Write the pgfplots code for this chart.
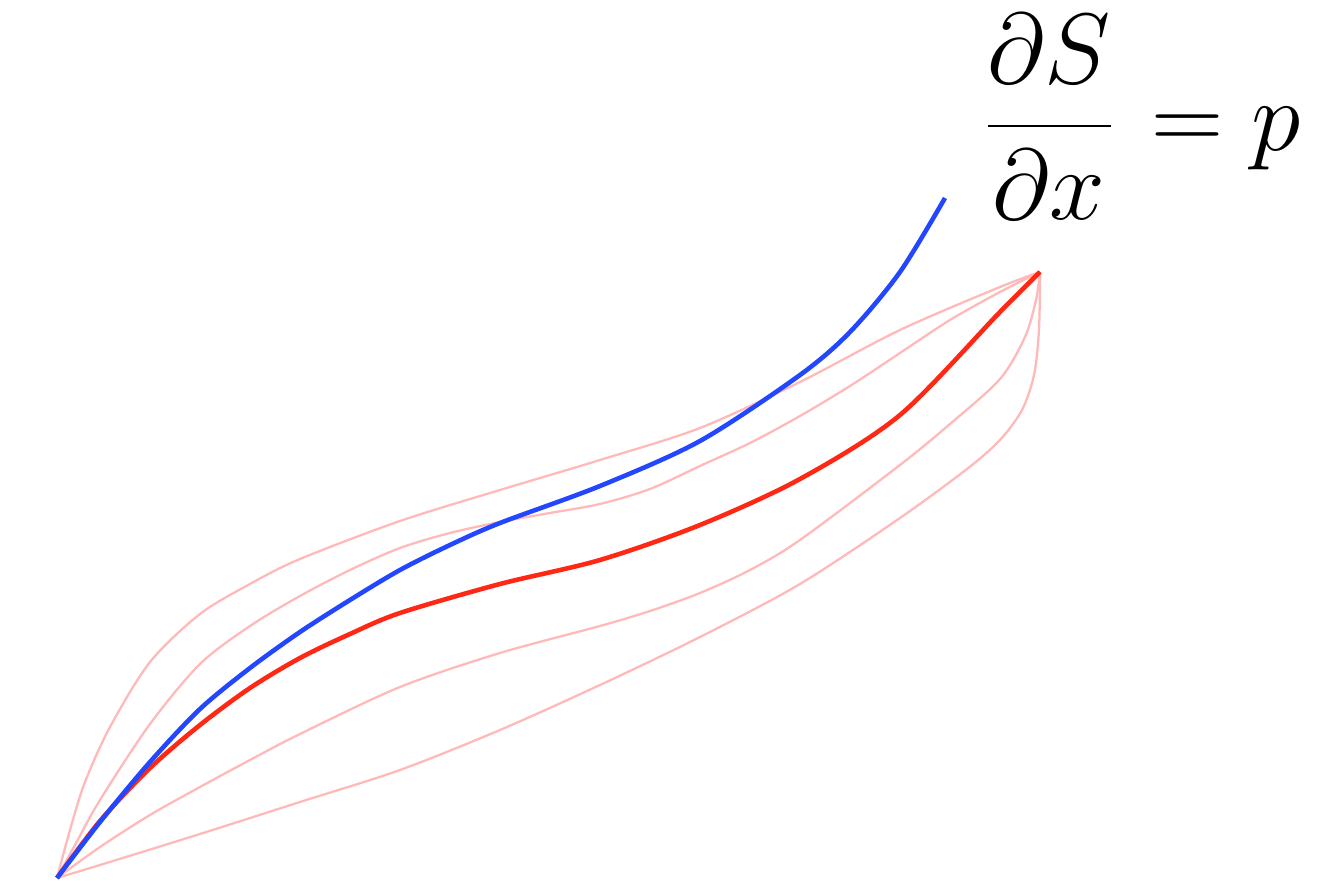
\documentclass[border=0pt]{standalone}
\usepackage{graphicx}
\usepackage{pgfplots}
\pgfplotsset{compat=1.18}
\definecolor{cblue}{RGB}{35,70,255}
\definecolor{cred}{RGB}{255,40,20}
\definecolor{cpale}{RGB}{255,185,185}
\begin{document}
\begin{tikzpicture}
\begin{axis}[scale only axis, width=13.41cm, height=8.81cm,
  xmin=0, xmax=1341, ymin=0, ymax=881, y dir=reverse,
  hide axis, clip=false]
\addplot[draw=none] coordinates {(0,0) (1341,881)};
% pale A
\addplot[cpale, line width=0.65pt, smooth] coordinates {
(57,878) (70,830) (85,782) (110,727) (150,662) (200,614) (250,584) (300,559)
(400,521) (500,490) (600,460) (700,428) (800,382) (900,330) (1000,287) (1040,272)};
% pale B
\addplot[cpale, line width=0.65pt, smooth] coordinates {
(57,878) (75,845) (100,800) (150,724) (200,664) (250,626) (300,596) (350,570) (400,548)
(450,533) (500,522) (550,513) (600,504) (650,489) (700,466) (750,443) (800,416) (850,386)
(900,353) (950,320) (1000,292) (1040,272)};
% pale C
\addplot[cpale, line width=0.65pt, smooth] coordinates {
(57,878) (100,847) (150,815) (200,787) (250,760) (300,734) (400,687) (500,653) (600,626) (650,611)
(700,593) (750,570) (800,540) (900,465) (950,424) (1000,379) (1025,337) (1036,300) (1040,272)};
% pale D
\addplot[cpale, line width=0.65pt, smooth] coordinates {
(57,878) (100,865) (200,834) (300,802) (400,770) (500,730) (600,685) (700,637) (800,584)
(900,518) (967,469) (1000,440) (1022,410) (1034,375) (1039,330) (1040,272)};
% thick red
\addplot[cred, line width=1.3pt, smooth] coordinates {
(57,878) (100,821) (150,768) (200,725) (250,688) (300,658) (350,634) (400,613) (500,584)
(600,560) (700,525) (800,479) (900,415) (1000,312) (1040,272)};
% blue
\addplot[cblue, line width=1.3pt, smooth] coordinates {
(57,878) (100,822) (150,762) (200,709) (250,668) (300,632) (350,600) (400,570) (450,545)
(500,523) (600,486) (700,441) (800,375) (850,332) (900,272) (945,198)};
\node[anchor=base west, inner sep=0pt, font=\fontsize{24.88}{30}\selectfont] at (axis cs:982,151) {\scalebox{1.145}{$\displaystyle\frac{\partial S}{\partial x}\mkern1.5mu = p$}};
\end{axis}
\end{tikzpicture}
\end{document}
